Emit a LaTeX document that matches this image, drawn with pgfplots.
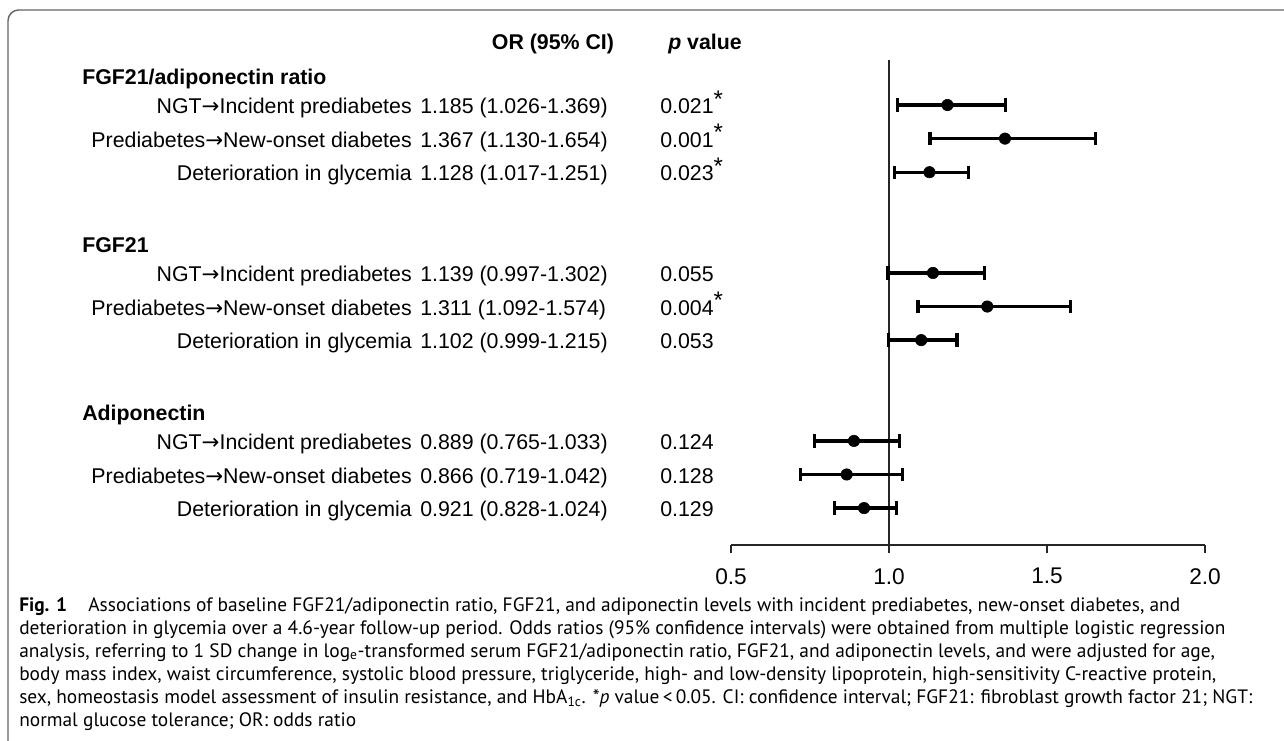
\documentclass[border=0pt]{standalone}
\usepackage{pgfplots}
\pgfplotsset{compat=1.18}
\usepackage{pgfplotstable}
\usepackage{fontspec}
\setmainfont{Liberation Sans}
\newfontfamily\capfont{PT Sans}
\newfontfamily\arrowfont{DejaVu Sans}
\newcommand{\arr}{{\arrowfont →}}
\newcommand{\sig}{\raisebox{0.55ex}{\fontsize{18}{19}\selectfont *}}

% row index (top to bottom), odds ratio, lower and upper 95% CI
\pgfplotstableread{
row or    lo    hi
1   1.185 1.026 1.369
2   1.367 1.130 1.654
3   1.128 1.017 1.251
6   1.139 0.997 1.302
7   1.311 1.092 1.574
8   1.102 0.999 1.215
11  0.889 0.765 1.033
12  0.866 0.719 1.042
13  0.921 0.828 1.024
}\ordata

\begin{document}
\begin{tikzpicture}
% 1 px of the reference = 0.75pt, y downwards
\begin{scope}[x=0.75pt,y=-0.75pt]
  \path[use as bounding box] (0,0) rectangle (1284,740);
  \draw[black!60, line width=1.1pt, rounded corners=8pt] (8,745) -- (8,10) -- (1290,10);
\end{scope}

\begin{axis}[
  at={(548.25pt,-408.75pt)}, anchor=south west,
  scale only axis, width=355.5pt, height=364pt,
  xmin=0.5, xmax=2, ymin=-0.35, ymax=14.1, y dir=reverse,
  axis x line*=bottom, axis y line=none,
  axis line style={-, line width=1.1pt, black!85},
  xtick={0.5,1,1.5,2}, xticklabels={0.5,1.0,1.5,2.0},
  ytick=\empty,
  tick align=outside, major tick length=6pt,
  tick style={line width=1.1pt, black!85},
  xticklabel style={font=\fontsize{17}{20}\selectfont, yshift=-8pt},
  clip=false,
]
  \addplot[black!85, line width=1pt] coordinates {(1,-0.35) (1,14.1)};
  \addplot[black, only marks, mark=*, mark size=4.3pt,
    error bars/.cd, x dir=both, x explicit,
    error mark=|,
    error bar style={line width=2.5pt},
    error mark options={line width=2.4pt, mark size=5pt}]
    table[x=or, y=row,
      x error plus expr=\thisrow{hi}-\thisrow{or},
      x error minus expr=\thisrow{or}-\thisrow{lo}] {\ordata};
\end{axis}

\begin{scope}[x=0.75pt,y=-0.75pt, every node/.style={inner sep=0pt, font=\fontsize{16}{19}\selectfont}]
  \node[anchor=base] at (553,49) {\bfseries OR (95\% CI)};
  \node[anchor=base west] at (668,49) {\bfseries\itshape p\/\upshape\ value};
  \node[anchor=base west, font=\fontsize{16}{19}\selectfont\bfseries] at (82,84) {FGF21/adiponectin ratio};
  \node[anchor=base west, font=\fontsize{16}{19}\selectfont\bfseries] at (82,252) {FGF21};
  \node[anchor=base west, font=\fontsize{16}{19}\selectfont\bfseries] at (82,420) {Adiponectin};
  \foreach \k/\lab/\ci/\p in {
    1/NGT\arr Incident prediabetes/1.185 (1.026-1.369)/0.021\sig,
    2/Prediabetes\arr New-onset diabetes/1.367 (1.130-1.654)/0.001\sig,
    3/Deterioration in glycemia/1.128 (1.017-1.251)/0.023\sig,
    6/NGT\arr Incident prediabetes/1.139 (0.997-1.302)/0.055,
    7/Prediabetes\arr New-onset diabetes/1.311 (1.092-1.574)/0.004\sig,
    8/Deterioration in glycemia/1.102 (0.999-1.215)/0.053,
    11/NGT\arr Incident prediabetes/0.889 (0.765-1.033)/0.124,
    12/Prediabetes\arr New-onset diabetes/0.866 (0.719-1.042)/0.128,
    13/Deterioration in glycemia/0.921 (0.828-1.024)/0.129}{
    \node[anchor=base east] at (412,{106+(\k-1)*33.6+7.5}) {\lab};
    \node[anchor=base west] at (420,{106+(\k-1)*33.6+7.5}) {\ci};
    \node[anchor=base west] at (660,{106+(\k-1)*33.6+7.5}) {\p};
  }
  \node[anchor=north west, align=left, font=\capfont\fontsize{14.55}{17.25}\selectfont] at (19,597)
    {\textbf{Fig. 1}\hspace{1.1em}Associations of baseline FGF21/adiponectin ratio, FGF21, and adiponectin levels with incident prediabetes, new-onset diabetes, and\\
     deterioration in glycemia over a 4.6-year follow-up period. Odds ratios (95\% confidence intervals) were obtained from multiple logistic regression\\
     analysis, referring to 1 SD change in log\textsubscript{e}-transformed serum FGF21/adiponectin ratio, FGF21, and adiponectin levels, and were adjusted for age,\\
     body mass index, waist circumference, systolic blood pressure, triglyceride, high- and low-density lipoprotein, high-sensitivity C-reactive protein,\\
     sex, homeostasis model assessment of insulin resistance, and HbA\textsubscript{1c}. *\textit{p} value\,<\,0.05. CI: confidence interval; FGF21: fibroblast growth factor 21; NGT:\\
     normal glucose tolerance; OR: odds ratio};
\end{scope}
\end{tikzpicture}
\end{document}
